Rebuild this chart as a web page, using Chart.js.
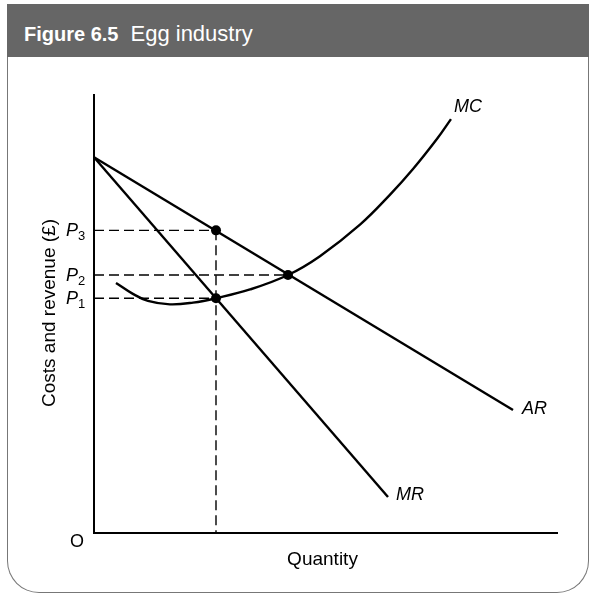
<!DOCTYPE html>
<html>
<head>
<meta charset="utf-8">
<script src="https://cdn.jsdelivr.net/npm/chart.js@4"></script>
<style>
  body { margin: 0; background: #fff; font-family: "Liberation Sans", Arial, sans-serif; }
  #header {
    position: absolute; left: 7px; top: 4px; width: 582px; height: 53px;
    background: #666; color: #fff; box-sizing: border-box;
    padding-left: 17px; padding-top: 20px; font-size: 22px; line-height: 20px;
  }
  #header b { font-size: 20px; margin-right: 12px; }
  #frame {
    position: absolute; left: 7px; top: 57px; width: 582px; height: 536px;
    box-sizing: border-box; border: 1.5px solid #777; border-top: none;
    border-radius: 0 0 32px 32px;
  }
  #chart { position: absolute; left: 0; top: 0; }
</style>
</head>
<body>
<div id="header"><b>Figure 6.5</b>Egg industry</div>
<div id="frame"></div>
<canvas id="chart" width="592" height="594"></canvas>
<script>
// values (axes run 0..100 in both directions)
const arX = [0, 90.5];
const arY = [85.8, 28.1];
const mrX = [0, 63.5];
const mrY = [85.8, 8.2];
const mcX = [4.75, 8.4, 11.65, 16.4, 21.4, 26.35, 33.7, 41.9, 48.8, 57.45, 63.9, 68.9, 74.1, 77.1];
const mcY = [57.1, 54.6, 53.0, 52.2, 52.6, 53.6, 55.6, 58.9, 63.2, 70.4, 77.2, 83.1, 90.0, 94.5];
const priceLabels = ['3', '2', '1'];
const priceLevels = [69.1, 58.9, 53.6];
const priceQty = [26.35, 41.9, 26.35];
const curveLabels = ['MC', 'AR', 'MR'];

const pts = (xs, ys) => xs.map((x, i) => ({ x: x, y: ys[i] }));

const dashStyle = {
    showLine: true, borderColor: '#000', borderWidth: 1.4, borderDash: [10, 5],
    pointRadius: 0, clip: false
};
const solidStyle = {
    showLine: true, borderColor: '#000', borderWidth: 2.4,
    pointRadius: 0, clip: false
};

const datasets = [];
priceLevels.forEach((p, i) => {
    datasets.push({ ...dashStyle, data: [{ x: 0, y: p }, { x: priceQty[i], y: p }] });
});
datasets.push({ ...dashStyle, data: [{ x: priceQty[0], y: priceLevels[0] }, { x: priceQty[0], y: 0 }] });
datasets.push({ ...solidStyle, data: pts(arX, arY) });
datasets.push({ ...solidStyle, data: pts(mrX, mrY) });
datasets.push({ ...solidStyle, data: pts(mcX, mcY), tension: 0.4 });
datasets.push({
    data: pts(priceQty, priceLevels), showLine: false, pointRadius: 5,
    pointBackgroundColor: '#000', pointBorderColor: '#000', pointBorderWidth: 0, clip: false
});

const labelsPlugin = {
    id: 'labels',
    afterDraw(chart) {
        const ctx = chart.ctx;
        const x = chart.scales.x, y = chart.scales.y;
        const area = chart.chartArea;
        ctx.save();
        ctx.fillStyle = '#000';
        ctx.textBaseline = 'alphabetic';

        // curve names at the line ends
        const ends = [
            [mcX[mcX.length - 1], mcY[mcY.length - 1], 3, -7],
            [arX[1], arY[1], 9, 4],
            [mrX[1], mrY[1], 8, 3]
        ];
        ctx.font = 'italic 18px "Liberation Sans"';
        ctx.textAlign = 'left';
        curveLabels.forEach((t, i) => {
            const e = ends[i];
            ctx.fillText(t, x.getPixelForValue(e[0]) + e[2], y.getPixelForValue(e[1]) + e[3]);
        });

        // price labels P3, P2, P1
        priceLabels.forEach((s, i) => {
            const py = y.getPixelForValue(priceLevels[i]);
            ctx.font = 'italic 18px "Liberation Sans"';
            ctx.fillText('P', area.left - 28, py + 6);
            ctx.font = '13px "Liberation Sans"';
            ctx.fillText(s, area.left - 16, py + 10);
        });

        // origin and axis titles
        ctx.font = '18px "Liberation Sans"';
        ctx.textAlign = 'center';
        ctx.fillText('O', area.left - 17, area.bottom + 14);
        ctx.font = '19px "Liberation Sans"';
        ctx.fillText('Quantity', (area.left + area.right) / 2 - 3, area.bottom + 32);
        ctx.translate(area.left - 39, 313);
        ctx.rotate(-Math.PI / 2);
        ctx.fillText('Costs and revenue (£)', 0, 0);
        ctx.restore();
    }
};

new Chart(document.getElementById('chart'), {
    type: 'scatter',
    data: { datasets: datasets },
    options: {
        responsive: false,
        animation: false,
        layout: { padding: { left: 94, top: 95, right: 35, bottom: 61 } },
        plugins: { legend: { display: false }, tooltip: { enabled: false } },
        scales: {
            x: {
                type: 'linear', min: 0, max: 100,
                grid: { display: false, drawTicks: false },
                ticks: { display: false },
                border: { display: true, color: '#000', width: 2 },
                afterFit: s => { s.height = 0; }
            },
            y: {
                type: 'linear', min: 0, max: 100,
                grid: { display: false, drawTicks: false },
                ticks: { display: false },
                border: { display: true, color: '#000', width: 2 },
                afterFit: s => { s.width = 0; }
            }
        }
    },
    plugins: [labelsPlugin]
});
</script>
</body>
</html>
